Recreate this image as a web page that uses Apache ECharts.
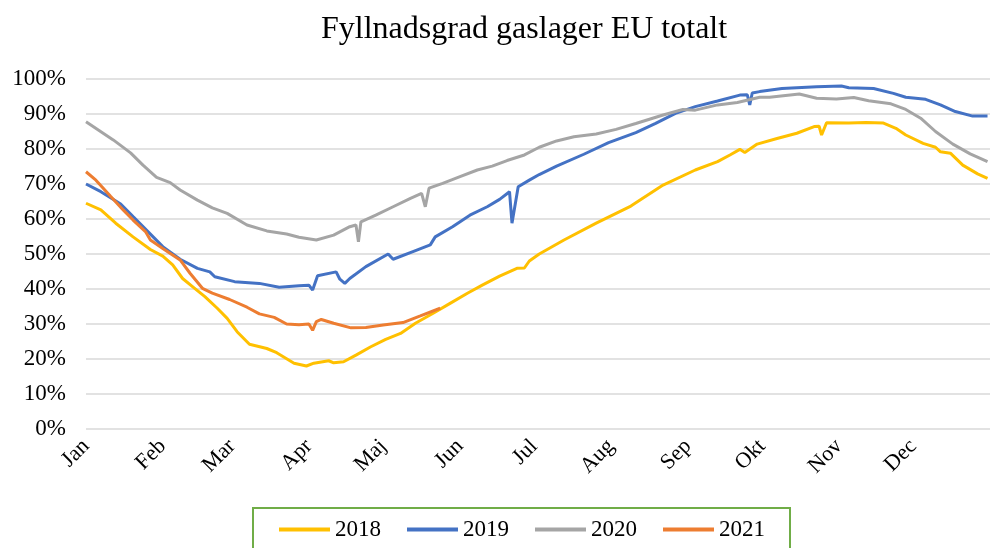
<!DOCTYPE html>
<html>
<head>
<meta charset="utf-8">
<script src="https://cdn.jsdelivr.net/npm/echarts@6/dist/echarts.min.js"></script>
<style>html,body{margin:0;padding:0;background:#fff}#c{width:990px;height:548px}</style>
</head>
<body>
<div id="c"></div>
<script>
var monthLabels = ['Jan','Feb','Mar','Apr','Maj','Jun','Jul','Aug','Sep','Okt','Nov','Dec'];
var monthStartDays = [0,31,59,90,120,151,181,212,243,273,304,334];
var yTicks = [0,10,20,30,40,50,60,70,80,90,100];

var days2018 = [0,6,12,19,26,31,35,39,43,48,53,57,61,66,73,77,84,89,92,98,100,104,109,115,121,127,133,140,147,154,160,167,174,177,179,183,193,206,220,233,246,255,260,264,266,271,279,287,294,296,297,299,308,315,322,327,331,338,343,345,349,354,360,364];
var fill2018 = [64.5,62.6,58.8,54.9,51.3,49.4,46.9,43.0,40.7,37.8,34.5,31.6,27.8,24.2,23.0,21.8,18.8,18.0,18.8,19.5,18.9,19.2,21.1,23.5,25.6,27.3,30.2,33.0,35.9,38.8,41.1,43.7,45.9,46.0,48.0,50.0,54.0,58.8,63.7,69.7,74.0,76.4,78.3,79.9,79.0,81.4,83.0,84.5,86.4,86.5,84.0,87.5,87.4,87.6,87.4,85.9,84.0,81.6,80.5,79.2,78.8,75.4,72.9,71.6];

var days2019 = [0,6,14,19,25,31,38,45,50,52,60,70,78,86,90,91.5,93.5,101,102.5,104.5,106.5,113,122,124,132,139,141,148,155,162,167,171,172,174.5,179,183,190,201,211,222,230,238,246,255,264,267,268,269,272,281,295,305,308,318,326,331,339,345,351,358,364];
var fill2019 = [70.0,67.8,64.3,60.7,56.4,52.1,48.5,45.9,44.9,43.5,42.1,41.6,40.5,40.9,41.1,39.7,43.8,44.9,42.8,41.6,43.0,46.4,50.0,48.5,50.7,52.6,54.9,57.8,61.1,63.5,65.6,67.8,58.8,69.2,71.1,72.7,75.1,78.5,81.8,84.7,87.3,90.2,92.1,93.7,95.4,95.5,92.6,96.0,96.4,97.3,97.8,98.0,97.5,97.3,95.9,94.8,94.2,92.6,90.7,89.4,89.4];

var days2020 = [0,11,18,23,28.5,34,38,45,51,57,65,73,81,86,93,100,106.5,109,110,111,117,124,131,135.5,137,138.5,144,151,158,164,170,177,183,190,197,206,214,222,233,241,246,255,263,272,276,288,295,303,310,316,325,331,337,343,350,357,364];
var fill2020 = [87.8,82.6,78.9,75.4,71.9,70.4,68.3,65.4,63.2,61.6,58.3,56.6,55.7,54.8,54.0,55.4,57.8,58.3,53.5,59.2,61.1,63.5,65.9,67.3,63.5,68.8,70.2,72.1,74.0,75.1,76.7,78.3,80.5,82.3,83.5,84.3,85.6,87.3,89.7,91.3,91.1,92.6,93.3,94.8,94.8,95.7,94.5,94.3,94.7,93.8,92.9,91.3,88.8,85.0,81.4,78.6,76.4];

var days2021 = [0,4,10,15,19,24,26,31,38,42,47,51,58,65,70,76,81,86,90,91.5,93,95,100,107,113,120,128,135,143];
var fill2021 = [73.5,71.1,66.4,62.6,59.7,56.4,54.0,51.6,48.3,44.5,40.2,38.8,37.0,34.8,32.9,31.9,30.0,29.8,30.0,28.2,30.7,31.3,30.2,28.9,29.0,29.7,30.4,32.3,34.5];

var seriesNames = ['2018','2019','2020','2021'];
var seriesColors = ['#FFC000','#4472C4','#A5A5A5','#ED7D31'];

function pairs(d, v){ return d.map(function(x,i){ return [x, v[i]]; }); }
var allData = [pairs(days2018,fill2018), pairs(days2019,fill2019), pairs(days2020,fill2020), pairs(days2021,fill2021)];

var chart = echarts.init(document.getElementById('c'), null, {renderer:'canvas'});
var serif = 'Liberation Serif, Times New Roman, serif';
chart.setOption({
  animation: false,
  backgroundColor: '#fff',
  title: {
    text: 'Fyllnadsgrad gaslager EU totalt',
    left: 316, top: 9,
    textStyle: {fontFamily: serif, fontSize: 32, fontWeight: 'normal', color: '#000'}
  },
  grid: {left: 86, right: 0, top: 79, bottom: 119, containLabel: false},
  xAxis: {
    type: 'value', min: 0, max: 365,
    axisLine: {show: false}, axisTick: {show: false}, splitLine: {show: false},
    axisLabel: {
      customValues: monthStartDays,
      rotate: 45, margin: 14,
      fontFamily: serif, fontSize: 22, color: '#000',
      formatter: function(v){ var i = monthStartDays.indexOf(v); return i >= 0 ? monthLabels[i] : ''; }
    }
  },
  yAxis: {
    type: 'value', min: 0, max: 100, interval: 10,
    axisLine: {show: false}, axisTick: {show: false},
    splitLine: {lineStyle: {color: '#d9d9d9', width: 1.5}},
    axisLabel: {fontFamily: serif, fontSize: 23, color: '#000', margin: 20,
      formatter: function(v){ return v + '%'; }}
  },
  legend: {
    left: 253, top: 508,
    padding: [10, 25, 40, 26],
    borderColor: '#70AD47', borderWidth: 2,
    itemGap: 26, itemWidth: 51, itemHeight: 4,
    icon: 'rect',
    textStyle: {fontFamily: serif, fontSize: 23, color: '#000'},
    data: seriesNames
  },
  series: seriesNames.map(function(n, i){
    return {
      name: n, type: 'line', data: allData[i],
      showSymbol: false, symbol: 'none',
      lineStyle: {width: 3, color: seriesColors[i]},
      itemStyle: {color: seriesColors[i]},
      z: 2 + i
    };
  })
});
</script>
</body>
</html>
